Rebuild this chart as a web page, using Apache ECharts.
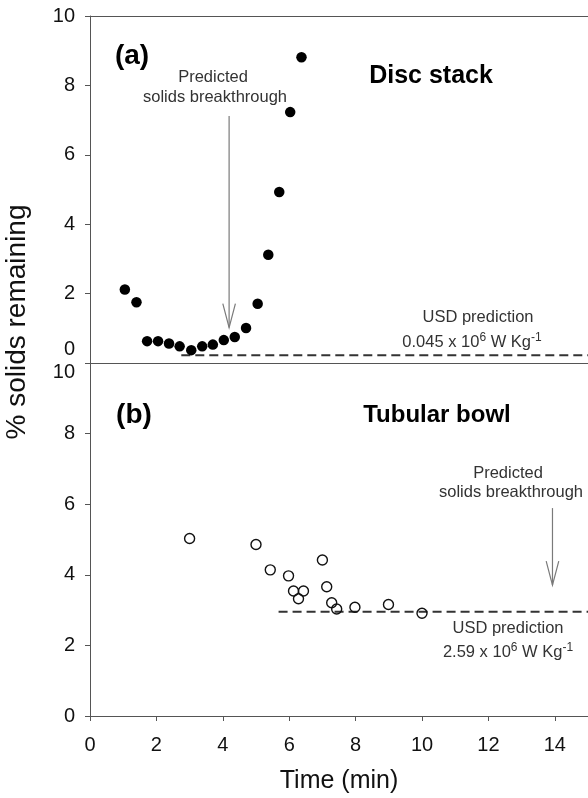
<!DOCTYPE html>
<html>
<head>
<meta charset="utf-8">
<script src="https://cdn.jsdelivr.net/npm/echarts@6/dist/echarts.min.js"></script>
<style>
html,body{margin:0;padding:0;background:#fff;}
#chart{width:588px;height:798px;}
</style>
</head>
<body>
<div id="chart"></div>
<script>
// ---- data ----
const xTickValues = [0, 2, 4, 6, 8, 10, 12, 14];
const yTickValues = [0, 2, 4, 6, 8, 10];

// (a) Disc stack
const discTime   = [1.05, 1.40, 1.72, 2.05, 2.38, 2.70, 3.05, 3.38, 3.70, 4.03, 4.36, 4.70, 5.05, 5.37, 5.70, 6.03, 6.37];
const discSolids = [2.12, 1.75, 0.63, 0.63, 0.56, 0.48, 0.37, 0.48, 0.53, 0.66, 0.75, 1.01, 1.71, 3.12, 4.93, 7.23, 8.81];
const discUsdX = [2.75, 15];
const discUsdY = [0.22, 0.22];
const discArrowX = [4.19];
const discArrowY = [7.12, 1.02];

// (b) Tubular bowl
const bowlTime   = [3.00, 5.00, 5.43, 5.98, 6.13, 6.43, 6.28, 7.00, 7.13, 7.28, 7.43, 7.98, 8.99, 10.0];
const bowlSolids = [5.03, 4.86, 4.14, 3.97, 3.54, 3.54, 3.32, 4.42, 3.66, 3.21, 3.03, 3.08, 3.16, 2.91];
const bowlUsdX = [5.68, 15];
const bowlUsdY = [2.95, 2.95];
const bowlArrowX = [13.93];
const bowlArrowY = [5.89, 3.71];

const FONT = '"Liberation Sans", Arial, sans-serif';
const AXIS_COLOR = '#555';
const TICK_FS = 20;

const zip = (xs, ys) => xs.map((x, i) => [x, ys[i]]);

function arrowSeries(xAxisIndex, yAxisIndex, ax, ay) {
  return {
    type: 'custom',
    xAxisIndex, yAxisIndex,
    silent: true,
    data: [[ax[0], ay[0], ay[1]]],
    renderItem: function (params, api) {
      const p0 = api.coord([api.value(0), api.value(1)]);
      const p1 = api.coord([api.value(0), api.value(2)]);
      const hw = 6.3, hl = 24;
      return {
        type: 'group',
        children: [
          { type: 'line', shape: { x1: p0[0], y1: p0[1], x2: p1[0], y2: p1[1] },
            style: { stroke: '#7a7a7a', lineWidth: 1.2 } },
          { type: 'polyline', shape: { points: [[p1[0] - hw, p1[1] - hl], [p1[0], p1[1]], [p1[0] + hw, p1[1] - hl]] },
            style: { stroke: '#7a7a7a', lineWidth: 1.2, fill: null } }
        ]
      };
    }
  };
}

const chart = echarts.init(document.getElementById('chart'), null, { renderer: 'canvas' });

const baseYAxis = {
  type: 'value', min: 0, max: 10, interval: 2,
  axisLine: { show: true, lineStyle: { color: AXIS_COLOR, width: 1 } },
  axisTick: { show: true, inside: false, length: 5, lineStyle: { color: AXIS_COLOR } },
  splitLine: { show: false }
};

const option = {
  animation: false,
  backgroundColor: '#fff',
  grid: [
    { left: 90, top: 16, width: 500, height: 347, show: false },
    { left: 90, top: 363, width: 500, height: 353, show: false }
  ],
  xAxis: [
    { type: 'value', gridIndex: 0, min: 0, max: 15, interval: 2, position: 'bottom',
      axisLine: { show: true, onZero: false, lineStyle: { color: AXIS_COLOR } },
      axisTick: { show: false }, axisLabel: { show: false }, splitLine: { show: false } },
    { type: 'value', gridIndex: 1, min: 0, max: 15, interval: 2,
      axisLine: { show: true, onZero: false, lineStyle: { color: AXIS_COLOR } },
      axisTick: { show: true, length: 5, lineStyle: { color: AXIS_COLOR } },
      axisLabel: { show: true, showMaxLabel: false, margin: 19, fontSize: TICK_FS, color: '#111', fontFamily: FONT,
        formatter: v => (xTickValues.indexOf(v) >= 0 ? String(v) : '') },
      splitLine: { show: false },
      name: 'Time (min)', nameLocation: 'middle', nameGap: 53,
      nameTextStyle: { fontSize: 25, color: '#111', fontFamily: FONT } },
    { type: 'value', gridIndex: 0, min: 0, max: 15, position: 'top',
      axisLine: { show: true, onZero: false, lineStyle: { color: AXIS_COLOR } },
      axisTick: { show: false }, axisLabel: { show: false }, splitLine: { show: false } }
  ],
  yAxis: [
    Object.assign({}, baseYAxis, { gridIndex: 0,
      axisLabel: { margin: 15, color: '#111', fontFamily: FONT, fontSize: TICK_FS,
        formatter: v => (yTickValues.indexOf(v) < 0 ? '' : (v === 0 ? '{lo|0}' : '{n|' + v + '}')),
        rich: { n: { fontSize: TICK_FS, fontFamily: FONT, color: '#111' },
                lo: { fontSize: TICK_FS, fontFamily: FONT, color: '#111', padding: [0, 0, 28, 0] } } } }),
    Object.assign({}, baseYAxis, { gridIndex: 1,
      axisLabel: { margin: 15, color: '#111', fontFamily: FONT, fontSize: TICK_FS,
        formatter: v => (yTickValues.indexOf(v) < 0 ? '' : (v === 10 ? '{hi|10}' : '{n|' + v + '}')),
        rich: { n: { fontSize: TICK_FS, fontFamily: FONT, color: '#111' },
                hi: { fontSize: TICK_FS, fontFamily: FONT, color: '#111', padding: [18, 0, 0, 0] } } } })
  ],
  series: [
    { type: 'line', xAxisIndex: 0, yAxisIndex: 0, data: zip(discUsdX, discUsdY), symbol: 'none',
      lineStyle: { color: '#333', width: 2, type: [9, 5] }, z: 1 },
    { type: 'scatter', xAxisIndex: 0, yAxisIndex: 0, data: zip(discTime, discSolids),
      symbol: 'circle', symbolSize: 10.5, itemStyle: { color: '#000', opacity: 1 }, z: 3 },
    arrowSeries(0, 0, discArrowX, discArrowY),
    { type: 'line', xAxisIndex: 1, yAxisIndex: 1, data: zip(bowlUsdX, bowlUsdY), symbol: 'none',
      lineStyle: { color: '#333', width: 2, type: [9, 5] }, z: 1 },
    { type: 'scatter', xAxisIndex: 1, yAxisIndex: 1, data: zip(bowlTime, bowlSolids),
      symbol: 'circle', symbolSize: 10, itemStyle: { color: 'rgba(255,255,255,0)', borderColor: '#111', borderWidth: 1.4, opacity: 1 }, z: 3 },
    arrowSeries(1, 1, bowlArrowX, bowlArrowY)
  ],
  graphic: [
    { type: 'text', x: 17, y: 322, rotation: Math.PI / 2, style: { text: '% solids remaining', font: '28px ' + FONT, fill: '#111', textAlign: 'center', textVerticalAlign: 'middle' } },
    { type: 'text', x: 132, y: 56, style: { text: '(a)', font: 'bold 28px ' + FONT, fill: '#000', textAlign: 'center', textVerticalAlign: 'middle' } },
    { type: 'text', x: 431, y: 76, style: { text: 'Disc stack', font: 'bold 25px ' + FONT, fill: '#000', textAlign: 'center', textVerticalAlign: 'middle' } },
    { type: 'text', x: 213, y: 77, style: { text: 'Predicted', font: '16.5px ' + FONT, fill: '#333', textAlign: 'center', textVerticalAlign: 'middle' } },
    { type: 'text', x: 215, y: 97, style: { text: 'solids breakthrough', font: '16.5px ' + FONT, fill: '#333', textAlign: 'center', textVerticalAlign: 'middle' } },
    { type: 'text', x: 478, y: 317, style: { text: 'USD prediction', font: '16.5px ' + FONT, fill: '#333', textAlign: 'center', textVerticalAlign: 'middle' } },
    { type: 'text', x: 472, y: 342, style: { text: '0.045 x 10{s|6} W Kg{s|-1}', font: '16.5px ' + FONT, fill: '#333', textAlign: 'center', textVerticalAlign: 'middle',
      rich: { s: { fontSize: 12, fontFamily: FONT, fill: '#333', padding: [0, 0, 9, 0] } } } },
    { type: 'text', x: 134, y: 415, style: { text: '(b)', font: 'bold 28px ' + FONT, fill: '#000', textAlign: 'center', textVerticalAlign: 'middle' } },
    { type: 'text', x: 437, y: 415, style: { text: 'Tubular bowl', font: 'bold 24px ' + FONT, fill: '#000', textAlign: 'center', textVerticalAlign: 'middle' } },
    { type: 'text', x: 508, y: 473, style: { text: 'Predicted', font: '16.5px ' + FONT, fill: '#333', textAlign: 'center', textVerticalAlign: 'middle' } },
    { type: 'text', x: 511, y: 492, style: { text: 'solids breakthrough', font: '16.5px ' + FONT, fill: '#333', textAlign: 'center', textVerticalAlign: 'middle' } },
    { type: 'text', x: 508, y: 628, style: { text: 'USD prediction', font: '16.5px ' + FONT, fill: '#333', textAlign: 'center', textVerticalAlign: 'middle' } },
    { type: 'text', x: 508, y: 652, style: { text: '2.59 x 10{s|6} W Kg{s|-1}', font: '16.5px ' + FONT, fill: '#333', textAlign: 'center', textVerticalAlign: 'middle',
      rich: { s: { fontSize: 12, fontFamily: FONT, fill: '#333', padding: [0, 0, 9, 0] } } } }
  ]
};

chart.setOption(option);
</script>
</body>
</html>
